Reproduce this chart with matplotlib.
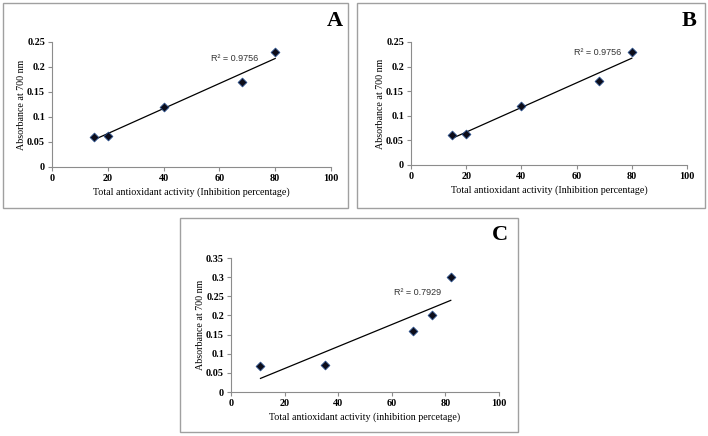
import numpy as np
import matplotlib.pyplot as plt
from matplotlib.patches import Rectangle

# panel A and B share the same measurements
x_ab = [15, 20, 40, 68, 80]
y_ab = [0.06, 0.062, 0.12, 0.17, 0.23]
r2_ab = '0.9756'

x_c = [11, 35, 68, 75, 82]
y_c = [0.068, 0.07, 0.16, 0.2, 0.3]
r2_c = '0.7929'

ab_yticks = [0, 0.05, 0.1, 0.15, 0.2, 0.25]
c_yticks = [0, 0.05, 0.1, 0.15, 0.2, 0.25, 0.3, 0.35]
xticks = [0, 20, 40, 60, 80, 100]

serif = 'Liberation Serif'
gray = '#8c8c8c'


def fmt(v):
    return '0' if v == 0 else f'{v:g}'


def draw_panel(fig, rect, box, x, y, yticks, r2, r2_pos, letter, letter_pos, xlabel):
    fig.patches.append(Rectangle(box[:2], box[2], box[3], transform=fig.transFigure,
                                 fill=False, edgecolor='#a0a0a0', lw=1.0))
    ax = fig.add_axes(rect)
    ax.scatter(x, y, marker='D', s=20, color='#0d0d1a', edgecolors='#2a4f8a',
               linewidths=0.6, zorder=3)
    # linear trendline like in Excel
    k, b = np.polyfit(x, y, 1)
    xs = np.array([min(x), max(x)])
    ax.plot(xs, k * xs + b, color='black', lw=0.9, zorder=2)
    ax.text(r2_pos[0], r2_pos[1], f'R² = {r2}', fontsize=6.5, family='Liberation Sans',
            color='#333333', va='center')
    ax.set_xlim(0, 100)
    ax.set_ylim(0, yticks[-1])
    ax.set_xticks(xticks)
    ax.set_yticks(yticks)
    ax.set_xticklabels([str(t) for t in xticks], fontsize=7.3, family=serif, fontweight='bold')
    ax.set_yticklabels([fmt(t) for t in yticks], fontsize=7.3, family=serif, fontweight='bold')
    ax.tick_params(length=3, width=0.8, color=gray, pad=2)
    for s in ['top', 'right']:
        ax.spines[s].set_visible(False)
    for s in ['left', 'bottom']:
        ax.spines[s].set_color(gray)
        ax.spines[s].set_linewidth(0.8)
    ax.set_xlabel(xlabel, fontsize=7.2, family=serif, labelpad=3)
    ax.set_ylabel('Absorbance at 700 nm', fontsize=7.2, family=serif, labelpad=0.5)
    fig.text(letter_pos[0], letter_pos[1], letter, fontsize=16, family=serif,
             fontweight='bold', ha='center', va='center')
    return ax


fig = plt.figure(figsize=(7.08, 4.36), dpi=100)

draw_panel(fig, [0.0734, 0.617, 0.3941, 0.2867], (0.0042, 0.523, 0.487, 0.470),
           x_ab, y_ab, ab_yticks, r2_ab, (57, 0.216), 'A', (0.473, 0.952),
           'Total antioxidant activity (Inhibition percentage)')
draw_panel(fig, [0.5805, 0.6216, 0.3898, 0.2821], (0.5042, 0.523, 0.4915, 0.470),
           x_ab, y_ab, ab_yticks, r2_ab, (59, 0.228), 'B', (0.973, 0.952),
           'Total antioxidant activity (Inhibition percentage)')
draw_panel(fig, [0.3263, 0.1009, 0.3785, 0.3073], (0.2542, 0.0092, 0.4774, 0.4908),
           x_c, y_c, c_yticks, r2_c, (61, 0.259), 'C', (0.706, 0.461),
           'Total antioxidant activity (inhibition percetage)')

fig.savefig('out.png', dpi=100)
